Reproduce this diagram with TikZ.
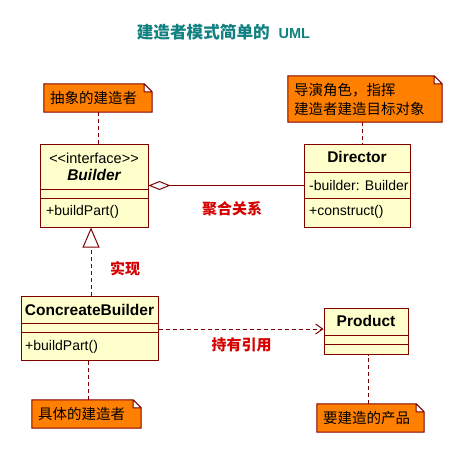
\documentclass[tikz,border=0pt]{standalone}
\usepackage{fontspec}
\setmainfont{Liberation Sans}
\newfontfamily\cjk{Noto Sans CJK SC}
\usetikzlibrary{arrows.meta,backgrounds}

\definecolor{umlborder}{RGB}{128,0,0}
\definecolor{umlfill}{RGB}{255,255,204}
\definecolor{notefill}{RGB}{255,128,0}
\definecolor{labelred}{RGB}{214,0,0}
\definecolor{titleteal}{RGB}{16,128,128}

\tikzset{
	classbox/.style={draw=umlborder, fill=umlfill, line width=1pt, inner sep=0pt},
	classname/.style={inner sep=0pt, font=\bfseries\fontsize{15.5}{18}\selectfont},
	member/.style={inner sep=0pt, anchor=west, font=\fontsize{14}{17}\selectfont},
	notebox/.style={inner xsep=6pt, inner ysep=0pt, text width=#1, align=left,
		font=\cjk\fontsize{14.5}{19}\selectfont},
	relabel/.style={inner sep=0pt, text=labelred, font=\cjk\bfseries\fontsize{15}{18}\selectfont},
	noteline/.style={draw=umlborder, line width=1pt, dash pattern=on 4pt off 3pt},
	umlline/.style={draw=umlborder, line width=1pt},
}

\begin{document}
\begin{tikzpicture}[x=1pt, y=-1pt]
\useasboundingbox (0,0) rectangle (462,453);

\node[inner sep=0pt] (title) at (223.5,32)
	{\color{titleteal}{\cjk\bfseries\fontsize{16.6}{20}\selectfont 建造者模式简单的}\hspace{9pt}{\bfseries\fontsize{14.5}{17}\selectfont UML}};

% Builder
\node[classbox, minimum width=108pt, minimum height=83pt] (builder) at (94,185.5) {};
\draw[umlline] (40,189) -- (148,189) (40,198) -- (148,198);
\node[inner sep=0pt, font=\fontsize{14.5}{17}\selectfont] (bstereo) at (94,158) {<\kern0pt<interface>\kern0pt>};
\node[classname, font=\bfseries\itshape\fontsize{15.5}{18}\selectfont] (bname) at (94,175) {Builder};
\node[member] (bpart) at (46,212) {+buildPart()};

% Director
\node[classbox, minimum width=106pt, minimum height=83pt] (director) at (357,185.5) {};
\draw[umlline] (304,172) -- (410,172) (304,198) -- (410,198);
\node[classname] (dname) at (357,157) {Director};
\node[member] (dfield) at (309,185) {-builder: Builder};
\node[member] (dop) at (309,212) {+construct()};

% ConcreateBuilder
\node[classbox, minimum width=137pt, minimum height=64pt] (concrete) at (89.5,328) {};
\draw[umlline] (21,323) -- (158,323) (21,332) -- (158,332);
\node[classname] (cname) at (89.5,310) {ConcreateBuilder};
\node[member] (cpart) at (25,347) {+buildPart()};

% Product
\node[classbox, minimum width=84pt, minimum height=46pt] (product) at (366,331) {};
\draw[umlline] (324,335.5) -- (408,335.5) (324,344) -- (408,344);
\node[classname] (pname) at (366,321) {Product};

% notes
\node[notebox=96pt, minimum height=28pt] (absnote) at (98,98) {抽象的建造者};
\node[notebox=142pt, minimum height=46pt] (dirnote) at (365,99) {导演角色，指挥\\建造者建造目标对象};
\node[notebox=97pt, minimum height=28pt] (connote) at (86.5,414) {具体的建造者};
\node[notebox=95pt, minimum height=28pt] (prodnote) at (370.5,418) {要建造的产品};

\begin{pgfonlayer}{background}
\fill[white] (0,0) rectangle (462,453);
\foreach \n in {absnote, dirnote, connote, prodnote}
	\filldraw[draw=umlborder, fill=notefill, line width=1pt, line join=miter]
		(\n.south west) -- (\n.north west) -- ([xshift=-8pt]\n.north east)
		-- ([yshift=-8pt]\n.north east) -- (\n.south east) -- cycle
		([xshift=-8pt]\n.north east) -- ([xshift=-8pt, yshift=-8pt]\n.north east)
		-- ([yshift=-8pt]\n.north east);
\end{pgfonlayer}

% relations
\draw[umlline, -{Diamond[open, length=22pt, width=9pt]}] (director.west) -- (builder.east);
\draw[umlline, dash pattern=on 4pt off 3pt, -{Triangle[open, length=20pt, width=17pt]}]
	([xshift=1.5pt]concrete.north) -- ([xshift=1.5pt]concrete.north |- builder.south);
\draw[umlline, dash pattern=on 4pt off 3pt, -{Straight Barb[length=7pt, width=10pt]}]
	([yshift=-1pt]concrete.east) -- ([yshift=-1pt]concrete.east -| product.west);

\draw[noteline] (absnote.south) -- (absnote.south |- builder.north);
\draw[noteline] ([xshift=-3pt]dirnote.south) -- ([xshift=-3pt]dirnote.south |- director.north);
\draw[noteline] ([xshift=1.5pt]connote.north) -- ([xshift=1.5pt]connote.north |- concrete.south);
\draw[noteline] ([xshift=-2.5pt]prodnote.north) -- ([xshift=-2.5pt]prodnote.north |- product.south);

\node[relabel] (aggrlabel) at (232,209) {聚合关系};
\node[relabel] (impllabel) at (125,269) {实现};
\node[relabel] (reflabel) at (241.5,345) {持有引用};

\end{tikzpicture}
\end{document}
